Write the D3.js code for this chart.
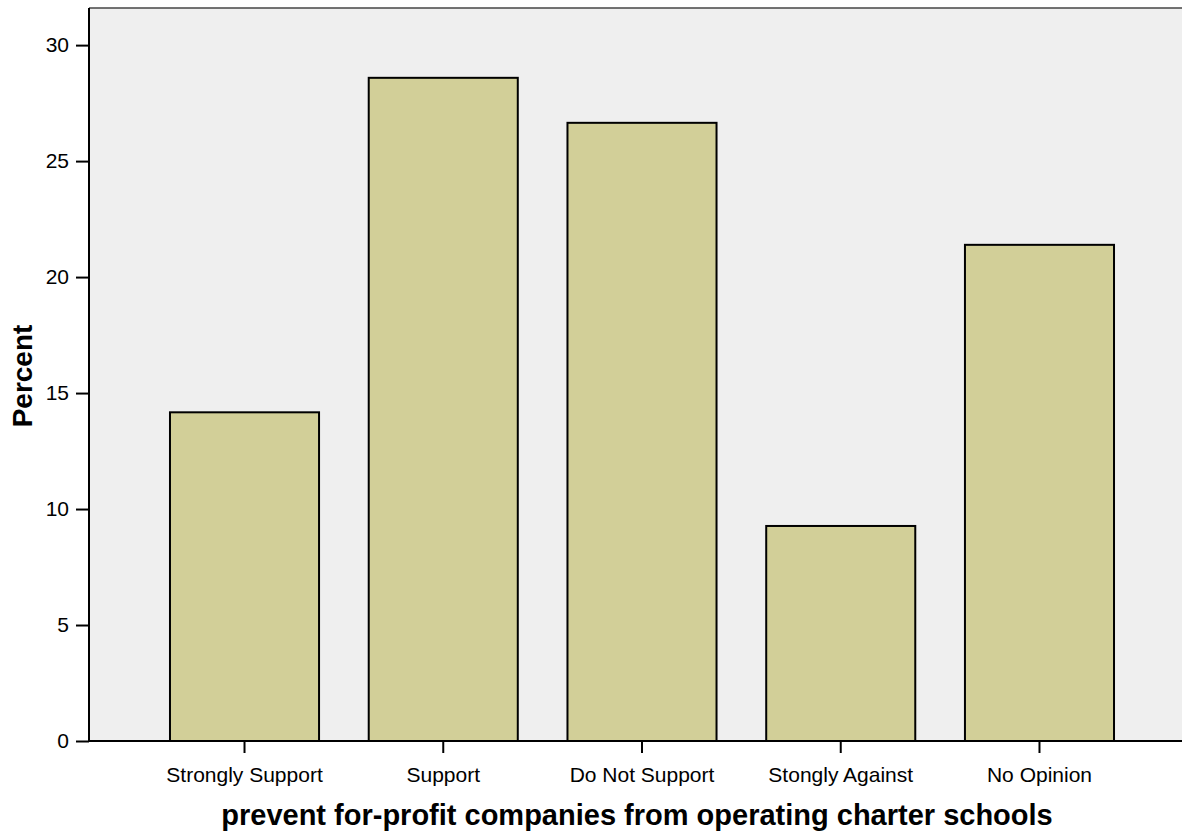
<!DOCTYPE html>
<html><head><meta charset="utf-8">
<script src="https://cdn.jsdelivr.net/npm/d3@7"></script>
<style>body{margin:0;background:#fff}svg{display:block}</style>
</head><body>
<script>
const categories = ["Strongly Support","Support","Do Not Support","Stongly Against","No Opinion"];
const percents = [14.17, 28.59, 26.65, 9.27, 21.39];
const yTicks = [0,5,10,15,20,25,30];
const xTitle = "prevent for-profit companies from operating charter schools";
const yTitle = "Percent";

(function(){
const W = 1182, H = 833;
const FONT = "Liberation Sans, Arial, sans-serif";
const svg = d3.select("body").append("svg").attr("width", W).attr("height", H);
const pLeft = 89, pTop = 8, pBottom = 741;

const y = d3.scaleLinear().domain([0, 31.6]).range([pBottom, pTop]);
const x = d3.scaleBand().domain(categories).range([pLeft, 1195]).paddingInner(0.25).paddingOuter(0.4075);

svg.append("rect").attr("x", pLeft).attr("y", pTop).attr("width", W - pLeft).attr("height", pBottom - pTop).attr("fill", "#efefef");
svg.append("line").attr("x1", pLeft).attr("x2", W).attr("y1", pTop).attr("y2", pTop).attr("stroke", "#444").attr("stroke-width", 1.5);

svg.selectAll("rect.bar").data(categories).enter().append("rect").attr("class","bar")
  .attr("x", d => x(d)).attr("width", x.bandwidth())
  .attr("y", (d,i) => y(percents[i])).attr("height", (d,i) => y(0) - y(percents[i]))
  .attr("fill", "#d2cf98").attr("stroke", "#000").attr("stroke-width", 2);

const yAxis = d3.axisLeft(y).tickValues(yTicks).tickSize(13).tickPadding(7);
const gy = svg.append("g").attr("transform", `translate(${pLeft},0)`).call(yAxis);
gy.select(".domain").remove();
gy.selectAll(".tick line").attr("stroke", "#000").attr("stroke-width", 2);
gy.selectAll("text").attr("font-family", FONT).attr("font-size", 21).attr("fill", "#000");
svg.append("line").attr("x1", pLeft).attr("x2", pLeft).attr("y1", pTop).attr("y2", pBottom + 1).attr("stroke", "#000").attr("stroke-width", 2);

const xAxis = d3.axisBottom(x).tickSize(12).tickPadding(14);
const gx = svg.append("g").attr("transform", `translate(0,${pBottom})`).call(xAxis);
gx.select(".domain").remove();
gx.selectAll(".tick line").attr("stroke", "#000").attr("stroke-width", 2);
gx.selectAll("text").attr("font-family", FONT).attr("font-size", 21).attr("fill", "#000");
svg.append("line").attr("x1", pLeft - 1).attr("x2", W).attr("y1", pBottom).attr("y2", pBottom).attr("stroke", "#000").attr("stroke-width", 2);

svg.append("text").attr("x", 637).attr("y", 825).attr("text-anchor", "middle")
  .attr("font-family", FONT).attr("font-weight", "bold").attr("font-size", 29).text(xTitle);
svg.append("text").attr("transform", "translate(32,376) rotate(-90)").attr("text-anchor", "middle")
  .attr("font-family", FONT).attr("font-weight", "bold").attr("font-size", 28).text(yTitle);
})();
</script>
</body></html>
